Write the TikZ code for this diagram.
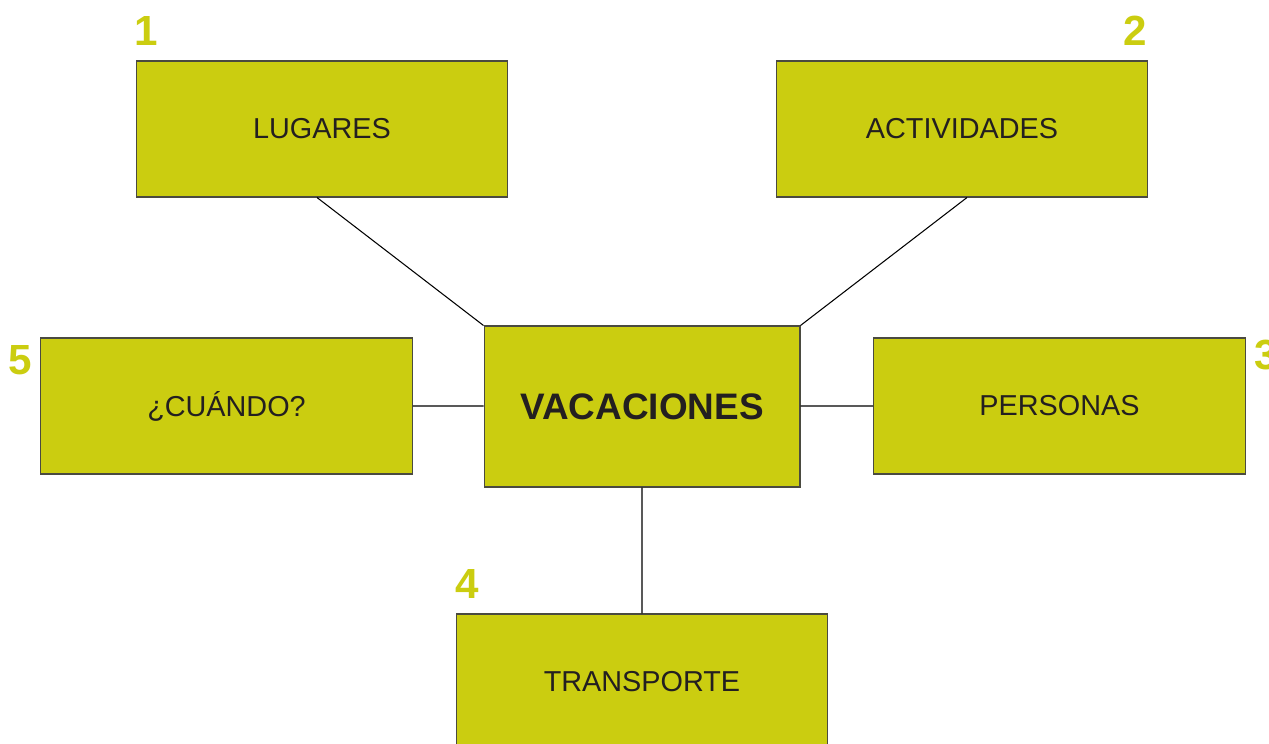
\documentclass[tikz,border=0pt]{standalone}
\usepackage{fontspec}
\setmainfont{Liberation Sans}
\usetikzlibrary{positioning}
\definecolor{lima}{HTML}{CBCD10}
\definecolor{borde}{HTML}{4A4A40}
\definecolor{texto}{HTML}{231F20}

\begin{document}
\begin{tikzpicture}[x=0.02cm,y=-0.02cm,semithick]
			\tikzstyle{caja}=[draw=borde,line width=0.6pt,fill=lima,text=texto,
				minimum width=7.44cm,minimum height=2.72cm,font=\fontsize{16.4}{18}\selectfont]
			\tikzstyle{centro}=[caja,minimum width=6.32cm,minimum height=3.22cm,
				font=\fontsize{21}{24}\selectfont\bfseries]
			\tikzstyle{numero}=[text=lima,font=\fontsize{24}{28}\selectfont\bfseries]
			\tikzstyle{linea}=[draw=black,line width=0.6pt]
			
			\useasboundingbox (0,0) rectangle (1269,744);
			
			\node[centro]      (V)   at (642,406.5)   {VACACIONES};
			\node[caja]        (L)   at (322,129)     {LUGARES};
			\node[caja]        (A)   at (962,129)     {ACTIVIDADES};
			\node[caja]        (P)   at (1059.5,406)  {PERSONAS};
			\node[caja]        (C)   at (226.5,406)   {¿CUÁNDO?};
			\node[caja]        (T)   at (642,682)     {TRANSPORTE};
			
			\node[numero]      (n1)  at (146,31)      {1};
			\node[numero]      (n2)  at (1135,31)     {2};
			\node[numero]      (n3)  at (1266,355)    {3};
			\node[numero]      (n4)  at (467,584)     {4};
			\node[numero]      (n5)  at (20,360)      {5};
			
			\path[linea] ([xshift=-0.1cm]L.south) -- (V.north west)
			([xshift=0.1cm]A.south) -- (V.north east)
			(C.east) -- (V.west |- C.east)
			(V.east |- P.west) -- (P.west)
			(V.south) -- (T.north)
			;
\end{tikzpicture}
\end{document}
